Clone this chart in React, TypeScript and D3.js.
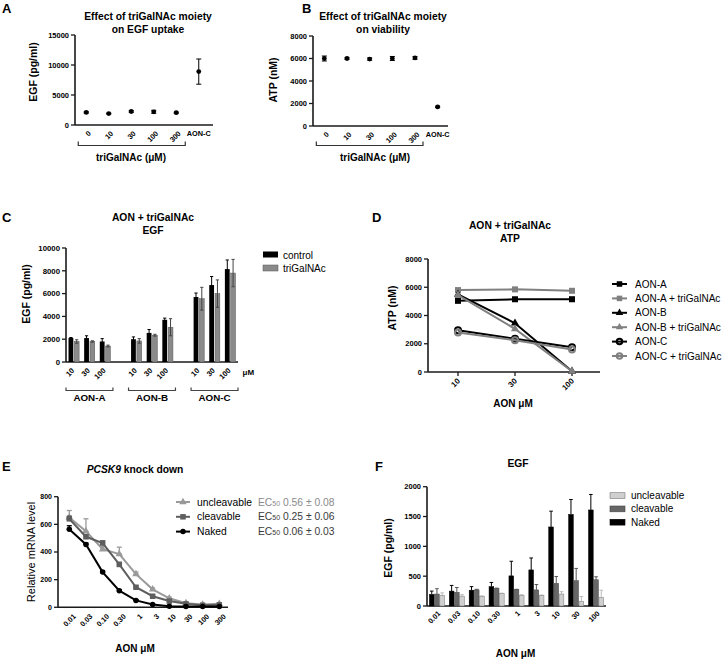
import React from "react";
import * as d3 from "d3";

const FONT = "'Liberation Sans', Arial, sans-serif";

// ---------- Panel A ----------
const aCategories = ["0", "10", "30", "100", "300", "AON-C"];
const aValues = [2100, 1900, 2250, 2200, 2050, 8900];
const aErrors = [120, 80, 150, 250, 100, 2100];
const aYTicks = [0, 5000, 10000, 15000];

// ---------- Panel B ----------
const bCategories = ["0", "10", "30", "100", "300", "AON-C"];
const bValues = [6000, 6000, 5950, 6000, 6050, 1700];
const bErrors = [220, 80, 100, 180, 120, 60];
const bYTicks = [0, 2000, 4000, 6000, 8000];

// ---------- Panel C ----------
const cGroups = ["AON-A", "AON-B", "AON-C"];
const cDoses = ["10", "30", "100"];
const cControl = [2100, 2100, 1800, 2000, 2550, 3700, 5700, 6750, 8150];
const cControlErr = [50, 200, 250, 200, 300, 150, 350, 750, 800];
const cTri = [1800, 1800, 1400, 1850, 2350, 3050, 5550, 6000, 7800];
const cTriErr = [150, 60, 80, 200, 80, 750, 1000, 1200, 1200];
const cYTicks = [0, 2000, 4000, 6000, 8000, 10000];

// ---------- Panel D ----------
const dDoses = ["10", "30", "100"];
const dNames = ["AON-A", "AON-A + triGalNAc", "AON-B", "AON-B + triGalNAc", "AON-C", "AON-C + triGalNAc"];
const dAonA = [5050, 5150, 5150];
const dAonATri = [5800, 5850, 5750];
const dAonB = [5500, 3450, 50];
const dAonBTri = [5450, 3050, 50];
const dAonC = [2950, 2350, 1750];
const dAonCTri = [2800, 2250, 1600];
const dAonAErr = [150, 100, 120];
const dYTicks = [0, 2000, 4000, 6000, 8000];

// ---------- Panel E ----------
const eDoses = ["0.01", "0.03", "0.10", "0.30", "1", "3", "10", "30", "100", "300"];
const eUncleavable = [650, 550, 420, 385, 240, 130, 65, 30, 20, 25];
const eUncleavableErr = [50, 90, 20, 50, 15, 10, 8, 5, 4, 4];
const eCleavable = [640, 510, 465, 310, 145, 80, 45, 25, 15, 18];
const eCleavableErr = [20, 15, 15, 15, 10, 8, 5, 4, 3, 3];
const eNaked = [565, 455, 255, 120, 50, 20, 8, 5, 5, 5];
const eNakedErr = [25, 10, 10, 8, 5, 3, 2, 2, 2, 2];
const eYTicks = [0, 200, 400, 600, 800];
const eEC50 = ["0.56 ± 0.08", "0.25 ± 0.06", "0.06 ± 0.03"];

// ---------- Panel F ----------
const fDoses = ["0.01", "0.03", "0.10", "0.30", "1", "3", "10", "30", "100"];
const fNaked = [195, 250, 265, 325, 505, 605, 1325, 1535, 1610];
const fNakedErr = [55, 95, 60, 70, 245, 200, 265, 250, 260];
const fCleavable = [200, 230, 270, 295, 275, 270, 380, 425, 440];
const fCleavableErr = [90, 80, 10, 5, 5, 90, 115, 205, 50];
const fUncleavable = [180, 165, 160, 210, 175, 175, 200, 80, 145];
const fUncleavableErr = [40, 25, 10, 5, 15, 10, 40, 80, 120];
const fYTicks = [0, 500, 1000, 1500, 2000];

const AX = "#1a1a1a";

function YAxis({ x, scale, ticks, fs }: any) {
  const [d0, d1] = scale.domain();
  return (
    <g>
      <line x1={x} x2={x} y1={scale(d0)} y2={scale(d1)} stroke={AX} strokeWidth={1.6} />
      {ticks.map((t: number) => (
        <g key={t}>
          <line x1={x - 4} x2={x} y1={scale(t)} y2={scale(t)} stroke={AX} strokeWidth={1.3} />
          <text x={x - 6} y={scale(t) + fs * 0.35} textAnchor="end" fontSize={fs} fontWeight="bold" fontFamily={FONT}>
            {t}
          </text>
        </g>
      ))}
    </g>
  );
}

function RotLabel({ x, y, text, fs = 7.3 }: any) {
  return (
    <text transform={`translate(${x},${y}) rotate(-45)`} textAnchor="end" fontSize={fs} fontWeight="bold" fontFamily={FONT}>
      {text}
    </text>
  );
}

function ErrBar({ x, y1, y2, color = "#000", cap = 2.5, sw = 1 }: any) {
  return (
    <g stroke={color} strokeWidth={sw}>
      <line x1={x} x2={x} y1={y1} y2={y2} />
      <line x1={x - cap} x2={x + cap} y1={y1} y2={y1} />
      <line x1={x - cap} x2={x + cap} y1={y2} y2={y2} />
    </g>
  );
}

function Marker({ type, x, y, color, size = 5.5 }: any) {
  if (type === "square") return <rect x={x - size / 2} y={y - size / 2} width={size} height={size} fill={color} />;
  if (type === "triangle") {
    const p = d3.symbol(d3.symbolTriangle, size * size * 0.8)();
    return <path d={p || ""} transform={`translate(${x},${y})`} fill={color} />;
  }
  if (type === "ring") return <circle cx={x} cy={y} r={size / 2} fill="none" stroke={color} strokeWidth={2} />;
  return <circle cx={x} cy={y} r={size / 2} fill={color} />;
}

function VText({ x, y, text, fs = 10.5, bold = true }: any) {
  return (
    <text transform={`translate(${x},${y}) rotate(-90)`} textAnchor="middle" fontSize={fs} fontWeight={bold ? "bold" : "normal"} fontFamily={FONT}>
      {text}
    </text>
  );
}

function PanelLetter({ x, y, t }: any) {
  return (
    <text x={x} y={y} fontSize={13} fontWeight="bold" fontFamily={FONT}>
      {t}
    </text>
  );
}

function Title({ x, y, lines, fs = 10.3 }: any) {
  return (
    <g>
      {lines.map((l: string, i: number) => (
        <text key={i} x={x} y={y + i * 13} textAnchor="middle" fontSize={fs} fontWeight="bold" fontFamily={FONT}>
          {l}
        </text>
      ))}
    </g>
  );
}

function PanelA() {
  const y = d3.scaleLinear().domain([0, 15000]).range([125, 35]);
  const x = d3.scalePoint<string>().domain(aCategories).range([75, 210]).padding(0.5);
  return (
    <g>
      <PanelLetter x={2} y={13} t="A" />
      <Title x={148} y={19.5} lines={["Effect of triGalNAc moiety", "on EGF uptake"]} />
      <YAxis x={75} scale={y} ticks={aYTicks} fs={7.5} />
      <line x1={75} x2={213} y1={125} y2={125} stroke={AX} strokeWidth={1.6} />
      {aCategories.map((c, i) => (
        <g key={c}>
          <ErrBar x={x(c)} y1={y(aValues[i] - aErrors[i])} y2={y(aValues[i] + aErrors[i])} />
          <circle cx={x(c)} cy={y(aValues[i])} r={2.4} fill="#000" />
          {c === "AON-C" ? (
            <text x={x(c)} y={136} textAnchor="middle" fontSize={7.3} fontWeight="bold" fontFamily={FONT}>{c}</text>
          ) : (
            <RotLabel x={(x(c) as number) + 5} y={134} text={c} />
          )}
        </g>
      ))}
      <path d={`M${(x("0") as number) - 8},141.5 V145.5 H${(x("300") as number) + 9} V141.5`} fill="none" stroke="#333" strokeWidth={1.2} />
      <text x={131} y={160.5} textAnchor="middle" fontSize={10} fontWeight="bold" fontFamily={FONT}>triGalNAc (μM)</text>
      <VText x={37} y={72} text="EGF (pg/ml)" />
    </g>
  );
}

function PanelB() {
  const y = d3.scaleLinear().domain([0, 8000]).range([126, 36]);
  const x = d3.scalePoint<string>().domain(bCategories).range([313, 449]).padding(0.5);
  return (
    <g>
      <PanelLetter x={302} y={13} t="B" />
      <Title x={383} y={19.5} lines={["Effect of triGalNAc moiety", "on viability"]} />
      <YAxis x={313} scale={y} ticks={bYTicks} fs={7.5} />
      <line x1={313} x2={448} y1={126} y2={126} stroke={AX} strokeWidth={1.6} />
      {bCategories.map((c, i) => (
        <g key={c}>
          <ErrBar x={x(c)} y1={y(bValues[i] - bErrors[i])} y2={y(bValues[i] + bErrors[i])} />
          <circle cx={x(c)} cy={y(bValues[i])} r={2.4} fill="#000" />
          {c === "AON-C" ? (
            <text x={x(c)} y={137} textAnchor="middle" fontSize={7.3} fontWeight="bold" fontFamily={FONT}>{c}</text>
          ) : (
            <RotLabel x={(x(c) as number) + 5} y={135} text={c} />
          )}
        </g>
      ))}
      <path d={`M${(x("0") as number) - 8},141.5 V145.5 H${(x("300") as number) + 8} V141.5`} fill="none" stroke="#333" strokeWidth={1.2} />
      <text x={375} y={161} textAnchor="middle" fontSize={10} fontWeight="bold" fontFamily={FONT}>triGalNAc (μM)</text>
      <VText x={277} y={80} text="ATP (nM)" />
    </g>
  );
}

function PanelC() {
  const y = d3.scaleLinear().domain([0, 10000]).range([362, 248]);
  const slots: string[] = [];
  cGroups.forEach((g, gi) => {
    cDoses.forEach((d) => slots.push(`${g}|${d}`));
    if (gi < cGroups.length - 1) slots.push(`gap${gi}`);
  });
  const x = d3.scaleBand<string>().domain(slots).range([66, 238]);
  const bw = 4.8;
  const items: any[] = [];
  cGroups.forEach((g, gi) =>
    cDoses.forEach((d, di) => items.push({ key: `${g}|${d}`, dose: d, i: gi * 3 + di }))
  );
  return (
    <g>
      <PanelLetter x={2} y={222} t="C" />
      <Title x={153} y={221} lines={["AON + triGalNAc", "EGF"]} />
      <YAxis x={66} scale={y} ticks={cYTicks} fs={7.8} />
      <line x1={66} x2={238} y1={362} y2={362} stroke={AX} strokeWidth={1.6} />
      {items.map((it) => {
        const c = (x(it.key) as number) + x.bandwidth() / 2;
        const v1 = cControl[it.i], v2 = cTri[it.i];
        return (
          <g key={it.key}>
            <rect x={c - 5.3} y={y(v1)} width={bw} height={362 - y(v1)} fill="#000" />
            <rect x={c + 0.5} y={y(v2)} width={bw} height={362 - y(v2)} fill="#8a8a8a" stroke="#555" strokeWidth={0.5} />
            <ErrBar x={c - 2.9} y1={y(v1 - cControlErr[it.i])} y2={y(v1 + cControlErr[it.i])} cap={1.6} color="#000" />
            <ErrBar x={c + 2.9} y1={y(v2 - cTriErr[it.i])} y2={y(v2 + cTriErr[it.i])} cap={1.6} color="#444" />
            <RotLabel x={c + 1} y={371} text={it.dose} fs={7.5} />
          </g>
        );
      })}
      <text x={242.5} y={375} fontSize={8} fontWeight="bold" fontFamily={FONT}>μM</text>
      {cGroups.map((g) => {
        const x0 = (x(`${g}|10`) as number);
        const x1 = (x(`${g}|100`) as number) + x.bandwidth();
        return (
          <g key={g}>
            <path d={`M${x0},387.5 V390.5 H${x1} V387.5`} fill="none" stroke="#444" strokeWidth={1.2} />
            <text x={(x0 + x1) / 2} y={400.5} textAnchor="middle" fontSize={9.8} fontWeight="bold" fontFamily={FONT}>{g}</text>
          </g>
        );
      })}
      <VText x={30} y={294} text="EGF (pg/ml)" />
      <rect x={263} y={251.5} width={15} height={6} fill="#000" />
      <text x={283} y={258.5} fontSize={10} fontFamily={FONT}>control</text>
      <rect x={263} y={265} width={15} height={6} fill="#8a8a8a" stroke="#555" strokeWidth={0.5} />
      <text x={283} y={272} fontSize={10} fontFamily={FONT}>triGalNAc</text>
    </g>
  );
}

function PanelD() {
  const y = d3.scaleLinear().domain([0, 8000]).range([372, 259]);
  const x = d3.scalePoint<string>().domain(dDoses).range([458, 572]);
  const series = [
    { name: dNames[0], vals: dAonA, color: "#000", m: "square" },
    { name: dNames[1], vals: dAonATri, color: "#808080", m: "square" },
    { name: dNames[2], vals: dAonB, color: "#000", m: "triangle" },
    { name: dNames[3], vals: dAonBTri, color: "#808080", m: "triangle" },
    { name: dNames[4], vals: dAonC, color: "#000", m: "ring" },
    { name: dNames[5], vals: dAonCTri, color: "#808080", m: "ring" },
  ];
  const line = d3.line<number>().x((_, i) => x(dDoses[i]) as number).y((v) => y(v));
  return (
    <g>
      <PanelLetter x={372} y={222} t="D" />
      <Title x={510} y={229} lines={["AON + triGalNAc", "ATP"]} />
      <YAxis x={428} scale={y} ticks={dYTicks} fs={7.5} />
      <line x1={428} x2={600} y1={372} y2={372} stroke={AX} strokeWidth={1.6} />
      {dDoses.map((d) => (
        <g key={d}>
          <line x1={x(d)} x2={x(d)} y1={372} y2={376} stroke={AX} strokeWidth={1.3} />
          <RotLabel x={(x(d) as number) + 2.5} y={381.5} text={d} fs={7.8} />
        </g>
      ))}
      {dDoses.map((d, i) => (
        <ErrBar key={d} x={x(d)} y1={y(dAonA[i] - dAonAErr[i])} y2={y(dAonA[i] + dAonAErr[i])} cap={3} sw={1.5} />
      ))}
      {series.map((s) => (
        <g key={s.name}>
          <path d={line(s.vals) || ""} fill="none" stroke={s.color} strokeWidth={2} />
          {s.vals.map((v, i) => (
            <Marker key={i} type={s.m} x={x(dDoses[i])} y={y(v)} color={s.color} size={6} />
          ))}
        </g>
      ))}
      {series.map((s, i) => {
        const ly = 284 + i * 14.4;
        return (
          <g key={s.name}>
            <line x1={612} x2={627} y1={ly} y2={ly} stroke={s.color} strokeWidth={2} />
            <Marker type={s.m} x={619.5} y={ly} color={s.color} size={5.5} />
            <text x={635} y={ly + 3.6} fontSize={10} fontFamily={FONT}>{s.name}</text>
          </g>
        );
      })}
      <text x={513} y={406.5} textAnchor="middle" fontSize={10} fontWeight="bold" fontFamily={FONT}>AON μM</text>
      <VText x={396} y={308} text="ATP (nM)" />
    </g>
  );
}

function PanelE() {
  const y = d3.scaleLinear().domain([0, 800]).range([607.3, 496.7]);
  const x = d3.scalePoint<string>().domain(eDoses).range([69.3, 219.3]);
  const line = d3.line<number>().x((_, i) => x(eDoses[i]) as number).y((v) => y(v));
  const series = [
    { name: "uncleavable", vals: eUncleavable, err: eUncleavableErr, color: "#9a9a9a", m: "triangle", ec: "#8a8a8a" },
    { name: "cleavable", vals: eCleavable, err: eCleavableErr, color: "#5e5e5e", m: "square", ec: "#3a3a3a" },
    { name: "Naked", vals: eNaked, err: eNakedErr, color: "#000", m: "circle", ec: "#3a3a3a" },
  ];
  return (
    <g>
      <PanelLetter x={2} y={471} t="E" />
      <text x={135} y={472.5} textAnchor="middle" fontSize={10.3} fontWeight="bold" fontFamily={FONT}>
        <tspan fontStyle="italic">PCSK9</tspan> knock down
      </text>
      <YAxis x={58} scale={y} ticks={eYTicks} fs={7} />
      <line x1={58} x2={228} y1={607.3} y2={607.3} stroke={AX} strokeWidth={1.6} />
      {eDoses.map((d) => (
        <RotLabel key={d} x={(x(d) as number) + 7} y={617} text={d} fs={7.3} />
      ))}
      {series.map((s) => (
        <g key={s.name}>
          {s.vals.map((v, i) => (
            <ErrBar key={i} x={x(eDoses[i])} y1={y(v)} y2={y(v + s.err[i])} color={s.color} cap={2.5} sw={1.3} />
          ))}
          <path d={line(s.vals) || ""} fill="none" stroke={s.color} strokeWidth={2} />
          {s.vals.map((v, i) => (
            <Marker key={i} type={s.m} x={x(eDoses[i])} y={y(v)} color={s.color} size={5.5} />
          ))}
        </g>
      ))}
      {series.map((s, i) => {
        const ly = 502 + i * 14.8;
        return (
          <g key={s.name}>
            <line x1={176} x2={190} y1={ly} y2={ly} stroke={s.color} strokeWidth={2} />
            <Marker type={s.m} x={183} y={ly} color={s.color} size={5.5} />
            <text x={197} y={ly + 3.6} fontSize={10.3} fontFamily={FONT}>{s.name}</text>
            <text x={258} y={ly + 3.6} fontSize={10.3} fontFamily={FONT} fill={s.ec}>
              EC<tspan fontSize={7}>50</tspan> {eEC50[i]}
            </text>
          </g>
        );
      })}
      <text x={135} y={651.5} textAnchor="middle" fontSize={10} fontWeight="bold" fontFamily={FONT}>AON μM</text>
      <VText x={35} y={552} text="Relative mRNA level" fs={11} bold={false} />
    </g>
  );
}

function PanelF() {
  const y = d3.scaleLinear().domain([0, 2000]).range([606, 486.7]);
  const x = d3.scaleBand<string>().domain(fDoses).range([427, 606]);
  const bw = 4.7;
  const series = [
    { name: "Naked", vals: fNaked, err: fNakedErr, fill: "#000", stroke: "#000", ecol: "#000", off: -5.2 },
    { name: "cleavable", vals: fCleavable, err: fCleavableErr, fill: "#666", stroke: "#444", ecol: "#555", off: 0 },
    { name: "uncleavable", vals: fUncleavable, err: fUncleavableErr, fill: "#cfcfcf", stroke: "#777", ecol: "#bbb", off: 5.2 },
  ];
  return (
    <g>
      <PanelLetter x={375} y={471} t="F" />
      <text x={518} y={467} textAnchor="middle" fontSize={10.3} fontWeight="bold" fontFamily={FONT}>EGF</text>
      <YAxis x={427} scale={y} ticks={fYTicks} fs={7.5} />
      <line x1={427} x2={606} y1={606} y2={606} stroke={AX} strokeWidth={1.6} />
      {fDoses.map((d) => {
        const c = (x(d) as number) + x.bandwidth() / 2;
        return (
          <g key={d}>
            {series.map((s) => {
              const v = s.vals[fDoses.indexOf(d)];
              const e = s.err[fDoses.indexOf(d)];
              const cx = c + s.off;
              return (
                <g key={s.name}>
                  <line x1={cx} x2={cx} y1={y(v)} y2={y(v + e)} stroke={s.ecol} strokeWidth={1} />
                  <line x1={cx - 1.8} x2={cx + 1.8} y1={y(v + e)} y2={y(v + e)} stroke={s.ecol} strokeWidth={1} />
                  <rect x={cx - bw / 2} y={y(v)} width={bw} height={606 - y(v)} fill={s.fill} stroke={s.stroke} strokeWidth={0.5} />
                </g>
              );
            })}
            <RotLabel x={c + 4} y={614} text={d} fs={7.3} />
          </g>
        );
      })}
      {[...series].reverse().map((s, i) => {
        const ly = 495.5 + i * 13.3;
        return (
          <g key={s.name}>
            <rect x={610} y={ly - 2.8} width={15} height={5.8} fill={s.fill} stroke={s.stroke} strokeWidth={0.6} />
            <text x={631} y={ly + 3.6} fontSize={10} fontFamily={FONT}>{s.name}</text>
          </g>
        );
      })}
      <text x={515.5} y={656.5} textAnchor="middle" fontSize={10} fontWeight="bold" fontFamily={FONT}>AON μM</text>
      <VText x={392} y={548} text="EGF (pg/ml)" />
    </g>
  );
}

export default function App() {
  return (
    <div style={{ position: "absolute", left: 0, top: 0 }}>
      <svg width={724} height={659} viewBox="0 0 724 659" style={{ display: "block", background: "#fff" }}>
        <rect width={724} height={659} fill="#fff" />
        <PanelA />
        <PanelB />
        <PanelC />
        <PanelD />
        <PanelE />
        <PanelF />
      </svg>
    </div>
  );
}
